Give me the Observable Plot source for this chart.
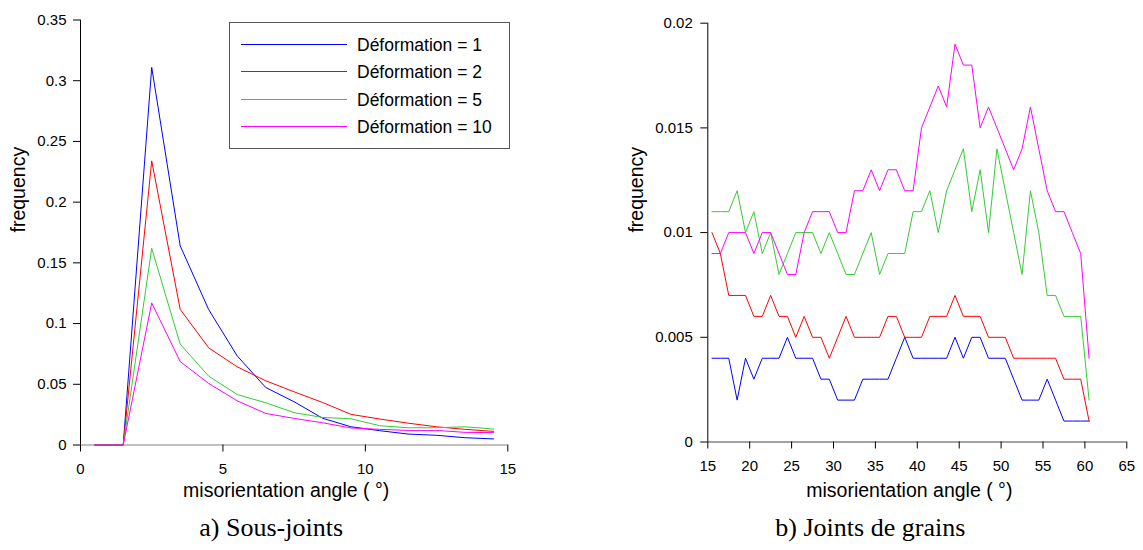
<!DOCTYPE html>
<html><head><meta charset="utf-8">
<script src="https://cdn.jsdelivr.net/npm/d3@7"></script>
<script src="https://cdn.jsdelivr.net/npm/@observablehq/plot@0.6"></script>
<style>
body{margin:0;background:#fff;}
#wrap{position:relative;width:1143px;height:550px;overflow:hidden;font-family:"Liberation Sans",Arial,sans-serif;background:#fff;}
#left,#right{position:absolute;top:0;}
#left{left:0}
#right{left:570px}
#legend{position:absolute;left:229px;top:22px;width:281px;height:127px;border:1px solid #555;background:#fff;box-sizing:border-box}
.lrow{position:absolute;left:0;height:22px;width:100%}
.lline{position:absolute;left:11px;top:10px;width:106px;height:0;border-top:1px solid}
.ltext{position:absolute;left:127px;top:0;line-height:22px;font-size:17.5px;color:#000;white-space:nowrap}
</style></head>
<body>
<div id="wrap"><div id="left"></div><div id="right"></div><div id="legend"></div></div>
<script>
// ---- series ----
const seriesNames = ["Déformation = 1", "Déformation = 2", "Déformation = 5", "Déformation = 10"];
const seriesColors = ["#0000ff", "#ff0000", "#33cc33", "#ff00ff"];

// ---- a) Sous-joints ----
const anglesA = [0.5, 1.5, 2.5, 3.5, 4.5, 5.5, 6.5, 7.5, 8.5, 9.5, 10.5, 11.5, 12.5, 13.5, 14.5];
const freqA_def1  = [0, 0, 0.311, 0.164, 0.1115, 0.0734, 0.0474, 0.0356, 0.022, 0.015, 0.0118, 0.009, 0.008, 0.006, 0.005];
const freqA_def2  = [0, 0, 0.234, 0.1117, 0.080, 0.0644, 0.0529, 0.0438, 0.035, 0.0252, 0.0214, 0.018, 0.015, 0.0129, 0.0112];
const freqA_def5  = [0, 0, 0.162, 0.083, 0.0567, 0.0416, 0.0348, 0.0266, 0.0227, 0.0216, 0.0159, 0.0142, 0.0142, 0.015, 0.0131];
const freqA_def10 = [0, 0, 0.117, 0.0687, 0.0507, 0.0364, 0.026, 0.0219, 0.0183, 0.014, 0.0129, 0.012, 0.012, 0.0104, 0.0102];
const xTicksA = [0, 5, 10, 15];
const yTicksA = [0, 0.05, 0.1, 0.15, 0.2, 0.25, 0.3, 0.35];

// ---- b) Joints de grains ----
const anglesB = [15.5, 16.5, 17.5, 18.5, 19.5, 20.5, 21.5, 22.5, 23.5, 24.5,
                 25.5, 26.5, 27.5, 28.5, 29.5, 30.5, 31.5, 32.5, 33.5, 34.5,
                 35.5, 36.5, 37.5, 38.5, 39.5, 40.5, 41.5, 42.5, 43.5, 44.5,
                 45.5, 46.5, 47.5, 48.5, 49.5, 50.5, 51.5, 52.5, 53.5, 54.5,
                 55.5, 56.5, 57.5, 58.5, 59.5, 60.5];
const freqB_def1  = [0.004, 0.004, 0.004, 0.002, 0.004, 0.003, 0.004, 0.004, 0.004, 0.005,
                     0.004, 0.004, 0.004, 0.003, 0.003, 0.002, 0.002, 0.002, 0.003, 0.003,
                     0.003, 0.003, 0.004, 0.005, 0.004, 0.004, 0.004, 0.004, 0.004, 0.005,
                     0.004, 0.005, 0.005, 0.004, 0.004, 0.004, 0.003, 0.002, 0.002, 0.002,
                     0.003, 0.002, 0.001, 0.001, 0.001, 0.001];
const freqB_def2  = [0.010, 0.009, 0.007, 0.007, 0.007, 0.006, 0.006, 0.007, 0.006, 0.006,
                     0.005, 0.006, 0.005, 0.005, 0.004, 0.005, 0.006, 0.005, 0.005, 0.005,
                     0.005, 0.006, 0.006, 0.005, 0.005, 0.005, 0.006, 0.006, 0.006, 0.007,
                     0.006, 0.006, 0.006, 0.005, 0.005, 0.005, 0.004, 0.004, 0.004, 0.004,
                     0.004, 0.004, 0.003, 0.003, 0.003, 0.001];
const freqB_def5  = [0.011, 0.011, 0.011, 0.012, 0.010, 0.011, 0.009, 0.010, 0.008, 0.009,
                     0.010, 0.010, 0.010, 0.009, 0.010, 0.009, 0.008, 0.008, 0.009, 0.010,
                     0.008, 0.009, 0.009, 0.009, 0.011, 0.011, 0.012, 0.010, 0.012, 0.013,
                     0.014, 0.011, 0.013, 0.010, 0.014, 0.012, 0.010, 0.008, 0.012, 0.010,
                     0.007, 0.007, 0.006, 0.006, 0.006, 0.002];
const freqB_def10 = [0.009, 0.009, 0.010, 0.010, 0.010, 0.009, 0.010, 0.010, 0.009, 0.008,
                     0.008, 0.010, 0.011, 0.011, 0.011, 0.010, 0.010, 0.012, 0.012, 0.013,
                     0.012, 0.013, 0.013, 0.012, 0.012, 0.015, 0.016, 0.017, 0.016, 0.019,
                     0.018, 0.018, 0.015, 0.016, 0.015, 0.014, 0.013, 0.014, 0.016, 0.014,
                     0.012, 0.011, 0.011, 0.010, 0.009, 0.004];
const xTicksB = [15, 20, 25, 30, 35, 40, 45, 50, 55, 60, 65];
const yTicksB = [0, 0.005, 0.01, 0.015, 0.02];

// ---- texts ----
const xTitle = "misorientation angle ( °)";
const yTitle = "frequency";
const captionA = "a) Sous-joints";
const captionB = "b) Joints de grains";

function tidy(xs, lists) {
  return seriesNames.flatMap((s, i) => xs.map((x, j) => ({x, y: lists[i][j], s})));
}
const rowsA = tidy(anglesA, [freqA_def1, freqA_def2, freqA_def5, freqA_def10]);
const rowsB = tidy(anglesB, [freqB_def1, freqB_def2, freqB_def5, freqB_def10]);

const sans = "'Liberation Sans', Arial, sans-serif";
const serif = "'Liberation Serif', 'Times New Roman', serif";

function chart({rows, xTicks, yTicks, width, ml, mr, mt, mb, yPad, xAxisColor, yTitleDx, xTitleDy, xTitleDx, caption, capDx, capDy}) {
  return Plot.plot({
    width, height: 550,
    marginLeft: ml, marginRight: mr, marginTop: mt, marginBottom: mb,
    x: {domain: [xTicks[0], xTicks[xTicks.length - 1]]},
    y: {domain: [yTicks[0], yTicks[yTicks.length - 1]]},
    color: {domain: seriesNames, range: seriesColors},
    style: {fontFamily: sans, fontSize: "15px", color: "#000", background: "transparent", overflow: "visible"},
    marks: [
      Plot.ruleY([yTicks[0]], {x1: xTicks[0], x2: xTicks[xTicks.length - 1], stroke: xAxisColor, strokeWidth: 1}),
      Plot.ruleX([xTicks[0]], {y1: yTicks[0], y2: yTicks[yTicks.length - 1], stroke: "#000", strokeWidth: 1}),
      Plot.axisY({ticks: yTicks, tickSize: 7, tickPadding: yPad, tickFormat: d => String(d), label: null}),
      Plot.axisX({ticks: xTicks, tickSize: 7, tickPadding: 11, tickFormat: d => String(d), label: null}),
      Plot.line(rows, {x: "x", y: "y", z: "s", stroke: "s", strokeWidth: 1}),
      Plot.text([xTitle], {text: d => d, frameAnchor: "bottom", dy: xTitleDy, dx: xTitleDx, fontSize: 19.5, fontFamily: sans, fill: "#000"}),
      Plot.text([yTitle], {text: d => d, frameAnchor: "left", rotate: -90, dx: yTitleDx, fontSize: 19.5, fontFamily: sans, fill: "#000"}),
      Plot.text([caption], {text: d => d, frameAnchor: "bottom", dy: capDy, dx: capDx, fontSize: 26, fontFamily: serif, fill: "#000"})
    ]
  });
}

document.getElementById("left").append(chart({
  rows: rowsA, xTicks: xTicksA, yTicks: yTicksA, width: 570,
  ml: 80, mr: 62.7, mt: 19.5, mb: 105.5, yPad: 7, xAxisColor: "#808080",
  yTitleDx: -62, xTitleDy: 52, xTitleDx: -8, caption: captionA, capDx: -23, capDy: 91
}));
document.getElementById("right").append(chart({
  rows: rowsB, xTicks: xTicksB, yTicks: yTicksB, width: 573,
  ml: 137.3, mr: 16.7, mt: 22.7, mb: 108.5, yPad: 8, xAxisColor: "#444",
  yTitleDx: -71, xTitleDy: 55, xTitleDx: -8, caption: captionB, capDx: -47, capDy: 94
}));

// legend (HTML overlay)
const legend = document.getElementById("legend");
seriesNames.forEach((name, i) => {
  const row = document.createElement("div");
  row.className = "lrow";
  row.style.top = (11 + i * 27.3) + "px";
  const line = document.createElement("div");
  line.className = "lline";
  line.style.borderTopColor = seriesColors[i];
  const txt = document.createElement("div");
  txt.className = "ltext";
  txt.textContent = name;
  row.append(line, txt);
  legend.append(row);
});
</script>
</body></html>
